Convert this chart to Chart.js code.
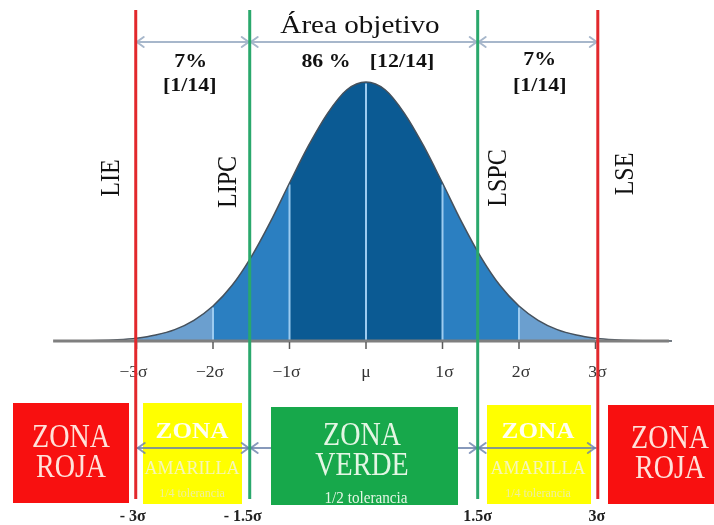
<!DOCTYPE html>
<html><head><meta charset="utf-8">
<script src="https://cdn.jsdelivr.net/npm/chart.js@4/dist/chart.umd.min.js"></script>
<style>html,body{margin:0;padding:0;background:#fff}canvas{display:block}</style>
</head><body>
<canvas id="c" width="714" height="525"></canvas>
<script>
// ---- data (x in sigma units, heights in % of peak) ----
const sigmaX = [-4,-3.75,-3.5,-3.25,-3,-2.75,-2.5,-2.25,-2,-1.75,-1.5,-1.25,-1,-0.75,-0.5,-0.25,0,0.25,0.5,0.75,1,1.25,1.5,1.75,2,2.25,2.5,2.75,3,3.25,3.5,3.75,4];
const curveHeight = [0,0.1,0.2,0.5,1.1,2.3,4.4,8,13.5,21.5,32.5,46,61,75.5,88,97,100,97,88,75.5,61,46,32.5,21.5,13.5,8,4.4,2.3,1.1,0.5,0.2,0.1,0];
const bandEdges = [-3,-2,-1,1,2,3];
const separatorX = [-2,-1,0,1,2];
const tickValues = [-3,-2,-1,0,1,2,3];
const tickLabels = ['−3σ','−2σ','−1σ','μ','1σ','2σ','3σ'];
const limitPos = [-3.01,-1.52,1.46,3.03];
const limitNames = ['LIE','LIPC','LSPC','LSE'];
const limitBottomLabels = ['- 3σ','- 1.5σ','1.5σ','3σ'];
const topTitle = 'Área objetivo';
const zonePercent = ['7%','86 %','7%'];
const zoneFraction = ['[1/14]','[12/14]','[1/14]'];
const zoneLine1 = ['ZONA','ZONA','ZONA','ZONA','ZONA'];
const zoneLine2 = ['ROJA','AMARILLA','VERDE','AMARILLA','ROJA'];
const zoneLine3 = ['','1/4 tolerancia','1/2 tolerancia','1/4 tolerancia',''];

// ---- styles ----
const bandColors = ['#6b9fcf','#2b7fc1','#0b5a93','#2b7fc1','#6b9fcf'];
const SERIF = '"Liberation Serif", "DejaVu Serif", serif';

const pts = sigmaX.map((x,i)=>({x, y: curveHeight[i]}));
const datasets = [];
for (let b=0;b<bandEdges.length-1;b++){
  datasets.push({
    data: pts.filter(p=>p.x>=bandEdges[b]-1e-9 && p.x<=bandEdges[b+1]+1e-9),
    fill:'origin', backgroundColor:bandColors[b], borderWidth:0, pointRadius:0,
    cubicInterpolationMode:'monotone', order:10
  });
}
const sepData = [];
separatorX.forEach(v=>{
  const h = curveHeight[sigmaX.indexOf(v)];
  sepData.push({x:v,y:0},{x:v,y:h-0.6},{x:v,y:null});
});
datasets.push({data:sepData, borderColor:'#9ccbf0', borderWidth:2, pointRadius:0, tension:0, spanGaps:false, fill:false, order:8});
datasets.push({data:pts, borderColor:'#46515c', borderWidth:1.5, pointRadius:0, fill:false, cubicInterpolationMode:'monotone', order:6});
datasets.push({data:[{x:-4.09,y:0},{x:3.96,y:0}], borderColor:'#7f7f7f', borderWidth:3, pointRadius:0, fill:false, order:0});

function txt(ctx,s,x,y,size,color,opts={}){
  ctx.save();
  ctx.translate(x,y);
  ctx.scale(opts.sx||1,1);
  if (opts.rot) ctx.rotate(opts.rot);
  ctx.font = (opts.bold?'bold ':'') + size + 'px ' + SERIF;
  ctx.fillStyle = color;
  ctx.textAlign = opts.align||'center';
  ctx.textBaseline = opts.base||'alphabetic';
  ctx.fillText(s,0,0);
  ctx.restore();
}
function arrow(ctx,x1,x2,y,color,w){
  ctx.save();
  ctx.strokeStyle=color; ctx.lineWidth=w; ctx.lineCap='round'; ctx.lineJoin='round';
  ctx.beginPath(); ctx.moveTo(x1,y); ctx.lineTo(x2,y); ctx.stroke();
  ctx.beginPath(); ctx.moveTo(x1+8,y-5); ctx.lineTo(x1+1,y); ctx.lineTo(x1+8,y+5); ctx.stroke();
  ctx.beginPath(); ctx.moveTo(x2-8,y-5); ctx.lineTo(x2-1,y); ctx.lineTo(x2-8,y+5); ctx.stroke();
  ctx.restore();
}

const overlay = {
  id:'overlay',
  afterDatasetsDraw(chart){
    const ctx = chart.ctx, xs = chart.scales.x, ys = chart.scales.y;
    const base = ys.getPixelForValue(0);
    const lx = limitPos.map(v=>xs.getPixelForValue(v));
    // ticks + labels
    ctx.save(); ctx.strokeStyle='#5a5a5a'; ctx.lineWidth=1.5;
    tickValues.forEach((v,i)=>{
      const px = xs.getPixelForValue(v);
      ctx.beginPath(); ctx.moveTo(px,base+1); ctx.lineTo(px,base+8); ctx.stroke();
      const off = v<0 ? -3 : (v>0 ? 2 : 0);
      txt(ctx,tickLabels[i],px+off,377,16,'#333',{sx:1.1});
    });
    ctx.restore();

    // top arrows + texts
    const topArrow = '#a7b7cb';
    arrow(ctx,lx[0],lx[1],42,topArrow,2);
    arrow(ctx,lx[1],lx[2],42,topArrow,2);
    arrow(ctx,lx[2],lx[3],42,topArrow,2);
    txt(ctx,topTitle,360,33,26,'#111',{sx:1.12});
    txt(ctx,zonePercent[0],(lx[0]+lx[1])/2-2,62,19,'#111',{bold:true,sx:1.15,base:'middle'});
    txt(ctx,zoneFraction[0],(lx[0]+lx[1])/2-3,86,19,'#111',{bold:true,sx:1.15,base:'middle'});
    txt(ctx,zonePercent[1],326,62,19,'#111',{bold:true,sx:1.15,base:'middle'});
    txt(ctx,zoneFraction[1],402,62,19,'#111',{bold:true,sx:1.15,base:'middle'});
    txt(ctx,zonePercent[2],(lx[2]+lx[3])/2+2,60,19,'#111',{bold:true,sx:1.15,base:'middle'});
    txt(ctx,zoneFraction[2],(lx[2]+lx[3])/2+2,86,19,'#111',{bold:true,sx:1.15,base:'middle'});

    // rotated limit names
    const nameOff = [-24,-21,21,28], nameY=[178,182,178,174];
    limitNames.forEach((n,i)=>txt(ctx,n,lx[i]+nameOff[i],nameY[i],24,'#111',{sx:1.15,rot:-Math.PI/2,base:'middle'}));

    // zone boxes
    const boxes = [[13,403,116,100,'#f81010'],[143,403,99,101,'#ffff00'],[271,407,187,98,'#17a84b'],[487,405,104,99,'#ffff00'],[608,405,106,99,'#f81010']];
    [0,1,3,4].forEach(i=>{const b=boxes[i]; ctx.fillStyle=b[4]; ctx.fillRect(b[0],b[1],b[2],b[3]);});
    const botArrow = 'rgba(105,128,170,0.8)';
    arrow(ctx,lx[0]+1,lx[1],448,botArrow,2);
    arrow(ctx,lx[1],lx[2],448,botArrow,2);
    arrow(ctx,lx[2],lx[3]-2,448,botArrow,2);
    {const b=boxes[2]; ctx.fillStyle=b[4]; ctx.fillRect(b[0],b[1],b[2],b[3]);}

    // box texts
    const redCol='#ffe2da', greenCol='#e4f6e4';
    [[0,71,447],[4,670,448]].forEach(([i,cx,by])=>{
      txt(ctx,zoneLine1[i],cx,by,33,redCol,{sx:0.85});
      txt(ctx,zoneLine2[i],cx,by+30,33,redCol,{sx:0.85});
    });
    [[1,192],[3,538]].forEach(([i,cx])=>{
      const b=boxes[i];
      ctx.save(); ctx.beginPath(); ctx.rect(b[0],b[1],b[2],b[3]); ctx.clip();
      txt(ctx,zoneLine1[i],cx,438,24,'#fffff2',{bold:true,sx:1.05});
      txt(ctx,zoneLine2[i],cx,474,18,'#f6f6b8',{sx:1.0});
      txt(ctx,zoneLine3[i],cx,497,12,'#eeeea0',{sx:1.0});
      ctx.restore();
    });
    {
      const b=boxes[2];
      ctx.save(); ctx.beginPath(); ctx.rect(b[0],b[1],b[2],b[3]); ctx.clip();
      txt(ctx,zoneLine1[2],362,445,33,greenCol,{sx:0.85});
      txt(ctx,zoneLine2[2],362,475,33,greenCol,{sx:0.85});
      txt(ctx,zoneLine3[2],366,503,16,greenCol,{sx:0.95});
      ctx.restore();
    }

    // limit lines
    const lineCols=['#e2282c','#2aa86c','#2aa86c','#e2282c'];
    ctx.save(); ctx.lineWidth=3;
    lx.forEach((px,i)=>{ctx.strokeStyle=lineCols[i]; ctx.beginPath(); ctx.moveTo(px,10); ctx.lineTo(px,499); ctx.stroke();});
    ctx.restore();

    // bottom labels
    const botOff=[-3,-7,0,-1];
    limitBottomLabels.forEach((s,i)=>txt(ctx,s,lx[i]+botOff[i],521,16,'#222',{bold:true}));
  }
};

new Chart(document.getElementById('c'),{
  type:'line',
  data:{datasets},
  options:{
    responsive:false, animation:false, devicePixelRatio:1,
    layout:{padding:0},
    plugins:{legend:{display:false},tooltip:{enabled:false},title:{display:false}},
    scales:{
      x:{type:'linear',min:-366/76.5,max:(714-366)/76.5,display:false},
      y:{type:'linear',min:-(525-341)/2.59,max:341/2.59,display:false}
    }
  },
  plugins:[overlay]
});
</script>
</body></html>
